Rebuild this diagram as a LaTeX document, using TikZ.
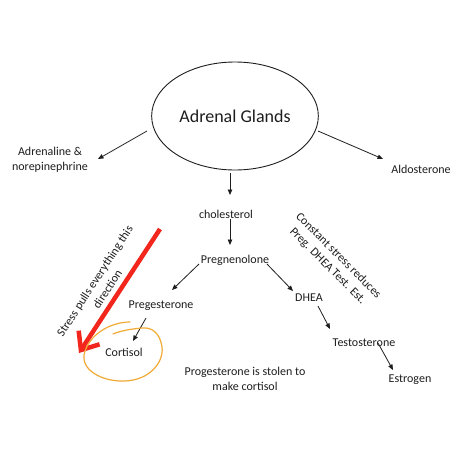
\documentclass[tikz,border=0pt]{standalone}
\usepackage{fontspec}
\setmainfont{Carlito}
\usetikzlibrary{arrows.meta,shapes.geometric}
\definecolor{txt}{HTML}{1E1E1E}
\definecolor{strokered}{HTML}{F2261C}
\definecolor{loop}{HTML}{F0AA35}
\begin{document}
\begin{tikzpicture}[x=1pt,y=-1pt,
  lbl/.style={font=\fontsize{12}{15}\selectfont, text=txt, inner sep=1pt, align=center},
  arr/.style={draw=txt, line width=0.8pt, -{Triangle[length=5.5pt,width=4.5pt]}},
  redarr/.style={draw=strokered, line width=4.5pt, -{Straight Barb[length=15pt,width=25pt]}},
  loopline/.style={draw=loop, line width=1.2pt, line cap=round}
]
\useasboundingbox (0,0) rectangle (474,474);
\fill[white] (0,0) rectangle (474,474);

\node[ellipse, draw=txt, line width=0.9pt, minimum width=166pt, minimum height=108pt,
      font=\fontsize{18}{20}\selectfont, text=txt] (adrenal) at (235,116) {Adrenal Glands};

\node[lbl] (adren) at (50,160) {Adrenaline \&\\norepinephrine};
\node[lbl] (aldo) at (421,169) {Aldosterone};
\node[lbl] (chol) at (226,214) {cholesterol};
\node[lbl] (pregn) at (235,260) {Pregnenolone};
\node[lbl] (pregest) at (161,306) {Pregesterone};
\node[lbl] (dhea) at (309,298) {DHEA};
\node[lbl] (cort) at (124,352) {Cortisol};
\node[lbl] (testo) at (364,343) {Testosterone};
\node[lbl] (estro) at (410,380) {Estrogen};
\node[lbl] (stolen) at (245,379) {Progesterone is stolen to\\make cortisol};
\node[lbl, rotate=57] (stress) at (101,285) {Stress pulls everything this\\direction};
\node[lbl, rotate=-45] (constant) at (333,261) {Constant stress reduces\\Preg. DHEA Test. Est.};

\draw[arr] ([shift={(-88pt,-15pt)}]adrenal.center) -- ([shift={(48pt,1pt)}]adren.center);
\draw[arr] ([shift={(83pt,-15pt)}]adrenal.center) -- ([shift={(-38pt,10pt)}]aldo.center);
\draw[arr] ([shift={(-5pt,-57pt)}]adrenal.center) -- ([shift={(4pt,19pt)}]chol.center);
\draw[arr] ([shift={(4pt,-5pt)}]chol.center) -- ([shift={(-5pt,15pt)}]pregn.center);
\draw[arr] ([shift={(-36pt,-4pt)}]pregn.center) -- ([shift={(11pt,16pt)}]pregest.center);
\draw[arr] ([shift={(32pt,-4pt)}]pregn.center) -- ([shift={(-16pt,7pt)}]dhea.center);
\draw[arr] ([shift={(9pt,-8pt)}]dhea.center) -- ([shift={(-34pt,14pt)}]testo.center);
\draw[arr] ([shift={(14pt,0pt)}]testo.center) -- ([shift={(-17pt,10pt)}]estro.center);
\draw[arr] ([shift={(-15pt,-12pt)}]pregest.center) -- ([shift={(9pt,11pt)}]cort.center);

\coordinate (rs) at (160,229);
\coordinate (re) at (79,353);
\draw[redarr] (rs) -- (re);

\draw[loopline] (130,322) .. controls (110,322) and (88,335) .. (84,355)
  .. controls (82,372) and (105,382) .. (125,381)
  .. controls (150,380) and (164,362) .. (162,347)
  .. controls (160,333) and (152,327) .. (142,328)
  .. controls (130,329) and (120,331) .. (113,334);
\end{tikzpicture}
\end{document}
